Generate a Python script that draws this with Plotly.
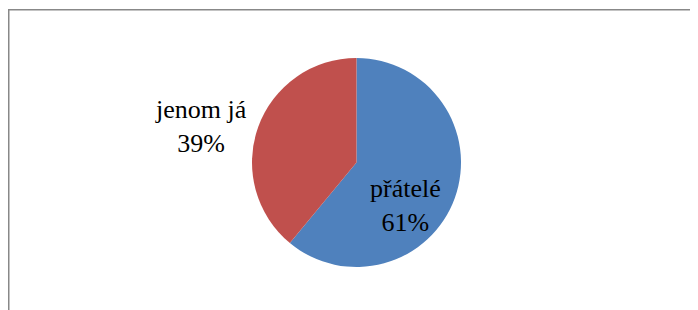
import plotly.graph_objects as go

labels = ["přátelé", "jenom já"]
values = [61, 39]
colors = ["#4F81BD", "#C0504D"]

W, H = 698, 310
OFF = 8  # page body margin in the browser window
# pie geometry (window pixels)
cx, cy, r = 356.5 - OFF, 162.5 - OFF, 104.5

fig = go.Figure(go.Pie(
    labels=labels, values=values,
    marker=dict(colors=colors, line=dict(width=0)),
    sort=False, direction="clockwise", rotation=0,
    textinfo="none", hoverinfo="label+percent",
    showlegend=False,
    domain=dict(x=[(cx - r) / W, (cx + r) / W], y=[1 - (cy + r) / H, 1 - (cy - r) / H]),
))

# label positions (window pixel centres of text blocks)
label_pos = [(405, 205), (201, 127)]
total = sum(values)
for lab, v, (px, py) in zip(labels, values, label_pos):
    fig.add_annotation(
        x=(px - OFF) / W, y=1 - (py - OFF) / H, xref="paper", yref="paper",
        text=f"{lab}<br>{round(100 * v / total)}%",
        showarrow=False, xanchor="center", yanchor="middle",
        font=dict(family="Liberation Serif, Times New Roman, serif", size=26, color="black"),
        align="center",
    )

# chart-area border (only left and top edges are visible in the window)
fig.add_shape(type="line", xref="paper", yref="paper",
              x0=0.75 / W, x1=0.75 / W, y0=0, y1=1 - 1 / H,
              line=dict(color="#888888", width=1.5))
fig.add_shape(type="line", xref="paper", yref="paper",
              x0=0, x1=1, y0=1 - 1.75 / H, y1=1 - 1.75 / H,
              line=dict(color="#888888", width=1.5))

fig.update_layout(width=W, height=H, margin=dict(l=0, r=0, t=0, b=0),
                  paper_bgcolor="white", plot_bgcolor="white")
fig.write_html("out.html")
